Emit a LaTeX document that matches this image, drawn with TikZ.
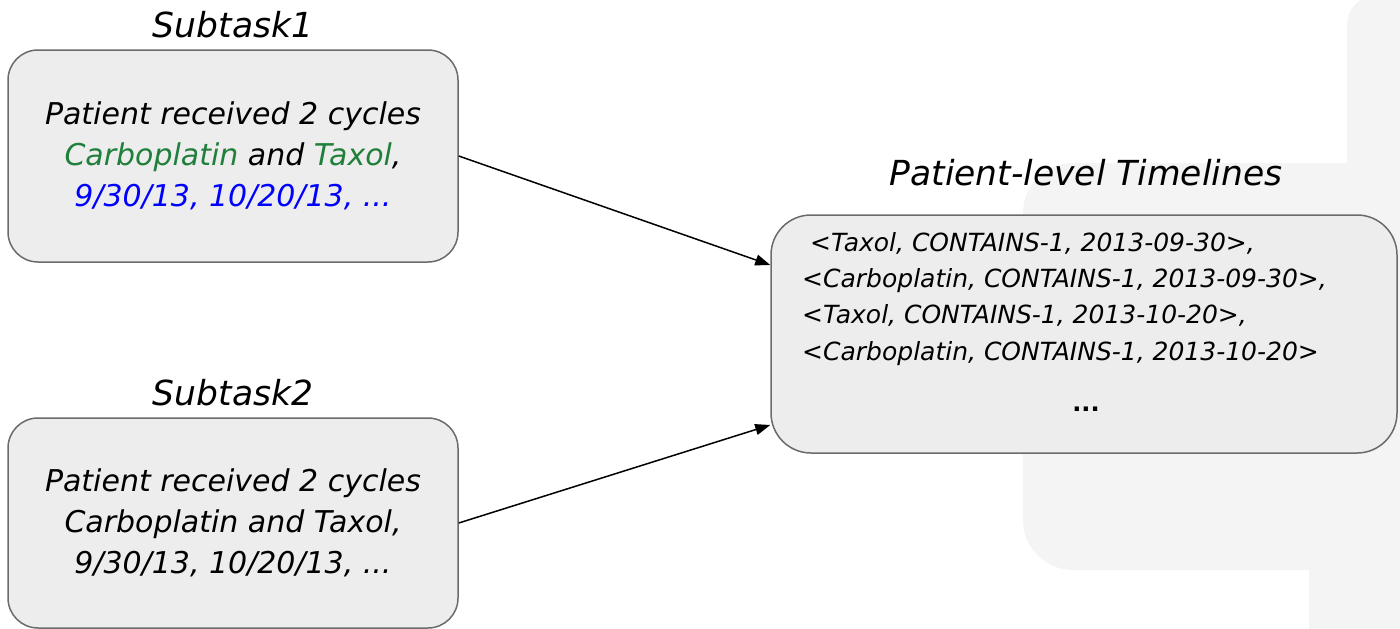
\documentclass[tikz,border=0pt]{standalone}
\usepackage{fontspec}
\setmainfont{DejaVu Sans}
\usetikzlibrary{arrows.meta}
\definecolor{boxfill}{HTML}{EDEDED}
\definecolor{boxline}{HTML}{6B6B6B}
\definecolor{bgc}{HTML}{F4F4F4}
\definecolor{drug}{HTML}{1F7F3B}
\definecolor{datec}{HTML}{0000FF}
\tikzset{
  taskbox/.style={draw=boxline, fill=boxfill, line width=1.5pt, rounded corners=30pt,
    minimum width=450pt, align=center, inner sep=0pt,
    font=\itshape\fontsize{30}{41}\selectfont},
  title/.style={font=\itshape\fontsize{34.5}{38}\selectfont, inner sep=0pt},
  arr/.style={-{Triangle[length=15pt,width=11pt]}, line width=1.5pt},
  tltext/.style={font=\itshape\fontsize{25}{36.3}\selectfont, align=left, inner sep=0pt, anchor=north west}
}
\begin{document}
\begin{tikzpicture}[x=1pt,y=-1pt]
\useasboundingbox (0,0) rectangle (1400,629);
% background panel
\fill[bgc] (1400,-5) [rounded corners=30pt] -- (1347,-5) [sharp corners] -- (1347,163)
   [rounded corners=50pt] -- (1023,163) -- (1023,570) [sharp corners] -- (1309,570) -- (1309,640) -- (1400,640) -- cycle;
% titles
\node[title] (t1) at (233,25) {Subtask1};
\node[title] (t2) at (233,393) {Subtask2};
\node[title] (t3) at (1086,173) {Patient-level Timelines};
% task boxes
\node[taskbox, minimum height=212pt] (s1) at (233,156)
  {Patient received 2 cycles\\
   \textcolor{drug}{Carboplatin} and \textcolor{drug}{Taxol},\\
   \textcolor{datec}{9/30/13, 10/20/13, ...}};
\node[taskbox, minimum height=210pt] (s2) at (233,523)
  {Patient received 2 cycles\\
   Carboplatin and Taxol,\\
   9/30/13, 10/20/13, ...};
% timeline box
\node[draw=boxline, fill=boxfill, line width=1.5pt, rounded corners=40pt,
      minimum width=626pt, minimum height=238pt, inner sep=0pt] (tl) at (1084,334) {};
\node[tltext] (tlt) at (802,232)
  {\ <Taxol, CONTAINS-1, 2013-09-30>,\\
   <Carboplatin, CONTAINS-1, 2013-09-30>,\\
   <Taxol, CONTAINS-1, 2013-10-20>,\\
   <Carboplatin, CONTAINS-1, 2013-10-20>};
\node[font=\bfseries\fontsize{24}{28}\selectfont, inner sep=0pt] (dots) at (1086,409) {...};
% connectors
\draw[arr] (s1.east) -- (tl.west |- 0,265);
\draw[arr] (s2.east) -- (tl.west |- 0,425);
\end{tikzpicture}
\end{document}
